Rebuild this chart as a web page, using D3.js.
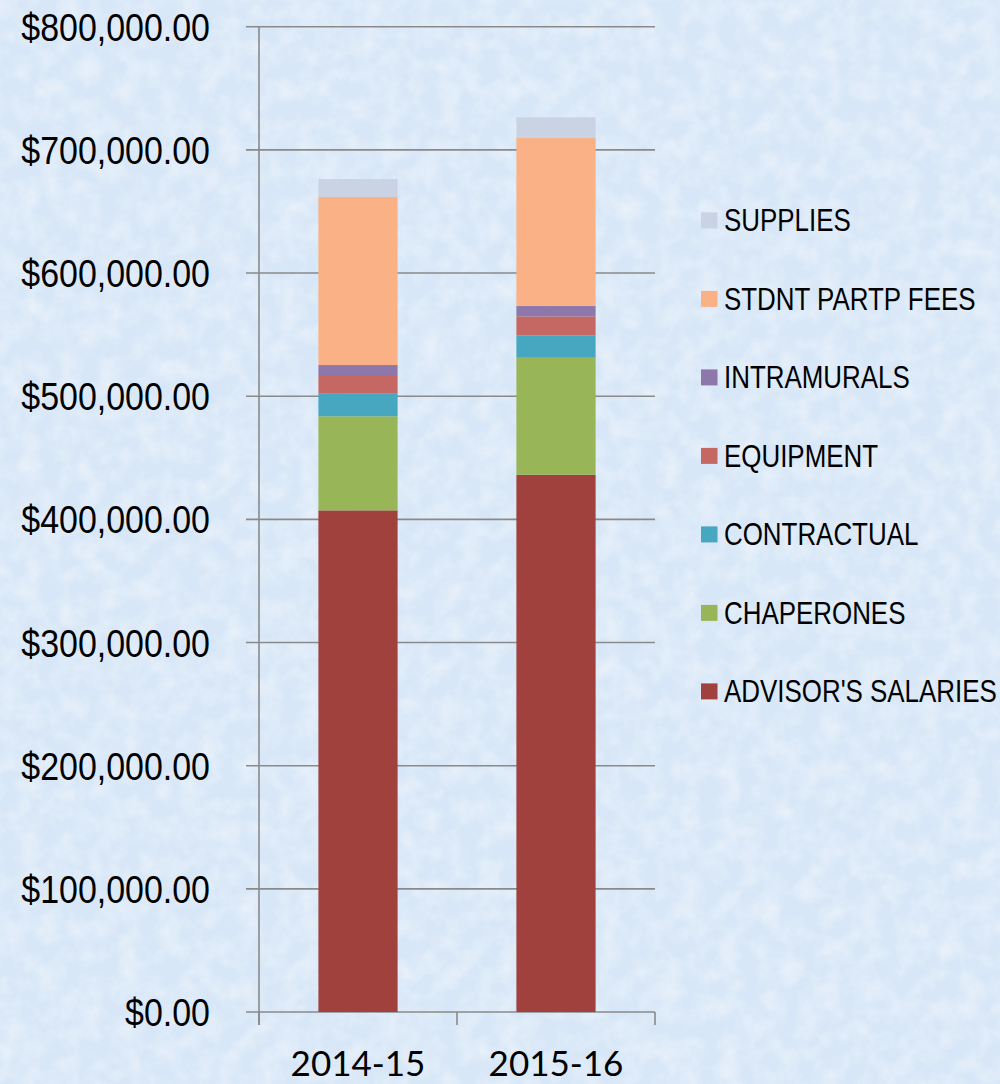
<!DOCTYPE html>
<html><head><meta charset="utf-8">
<script src="https://cdn.jsdelivr.net/npm/d3@7"></script>
<style>html,body{margin:0;padding:0;background:#dce9f7;}svg{display:block;}</style>
</head><body>
<script>
const categories = ["2014-15", "2015-16"];
const seriesNames = ["ADVISOR'S SALARIES", "CHAPERONES", "CONTRACTUAL", "EQUIPMENT", "INTRAMURALS", "STDNT PARTP FEES", "SUPPLIES"];
const advisorsSalaries = [407300, 436200];
const chaperones = [76400, 95000];
const contractual = [18300, 18200];
const equipment = [15200, 15400];
const intramurals = [8100, 8400];
const stdntPartpFees = [136400, 136400];
const supplies = [14600, 16800];
const seriesColors = ["#a0413d", "#98b558", "#47a6c0", "#c56762", "#8e77ab", "#f9b185", "#c9d3e3"];
const yTicks = [0, 100000, 200000, 300000, 400000, 500000, 600000, 700000, 800000];

const W = 1000, H = 1084;
const svg = d3.select("body").append("svg").attr("width", W).attr("height", H);

// background texture
const defs = svg.append("defs");
const f = defs.append("filter").attr("id", "tex").attr("x", 0).attr("y", 0).attr("width", "100%").attr("height", "100%");
f.append("feTurbulence").attr("type", "fractalNoise").attr("baseFrequency", 0.05).attr("numOctaves", 4).attr("seed", 4).attr("result", "n");
f.append("feColorMatrix").attr("in", "n").attr("type", "matrix")
  .attr("values", "0 0 0 0 1  0 0 0 0 1  0 0 0 0 1  1.2 0 0 0 -0.45");
svg.append("rect").attr("width", W).attr("height", H).attr("fill", "#d8e7f7");
svg.append("rect").attr("width", W).attr("height", H).attr("filter", "url(#tex)").attr("opacity", 0.65);

const series = [advisorsSalaries, chaperones, contractual, equipment, intramurals, stdntPartpFees, supplies];
const rows = categories.map((c, i) => {
  const o = { cat: c };
  seriesNames.forEach((s, k) => o[s] = series[k][i]);
  return o;
});
const stacked = d3.stack().keys(seriesNames)(rows);

const y = d3.scaleLinear().domain([0, 800000]).range([1012, 26.7]);
const x = d3.scaleBand().domain(categories).range([259, 655]).paddingInner(0.6).paddingOuter(0.3);
const color = d3.scaleOrdinal().domain(seriesNames).range(seriesColors);

// gridlines
const gridColor = "#8a8a8a";
svg.append("g").selectAll("line").data(yTicks).join("line")
  .attr("x1", 246).attr("x2", 655)
  .attr("y1", d => y(d)).attr("y2", d => y(d))
  .attr("stroke", gridColor).attr("stroke-width", 1.6);

// y axis line
svg.append("line").attr("x1", 259).attr("x2", 259).attr("y1", y(800000)).attr("y2", 1025)
  .attr("stroke", gridColor).attr("stroke-width", 1.6);

// x ticks
const xTickPos = [259, ...categories.map(c => x(c) + x.bandwidth() / 2 + x.step() / 2)];
svg.append("g").selectAll("line").data(xTickPos).join("line")
  .attr("x1", d => d).attr("x2", d => d).attr("y1", 1012).attr("y2", 1025)
  .attr("stroke", gridColor).attr("stroke-width", 1.6);

// bars
svg.append("g").selectAll("g").data(stacked).join("g")
  .attr("fill", d => color(d.key))
  .selectAll("rect").data(d => d).join("rect")
  .attr("x", d => x(d.data.cat)).attr("width", x.bandwidth())
  .attr("y", d => y(d[1])).attr("height", d => y(d[0]) - y(d[1]));

// y labels
const fmt = d3.format("$,.2f");
svg.append("g").selectAll("text").data(yTicks).join("text")
  .attr("transform", d => `translate(210,${y(d) + 14}) scale(0.87,1)`)
  .attr("text-anchor", "end")
  .attr("font-family", "'Liberation Sans', Arial, sans-serif").attr("font-size", 39)
  .attr("fill", "#000").text(d => fmt(d));

// x labels
svg.append("g").selectAll("text").data(categories).join("text")
  .attr("x", d => x(d) + x.bandwidth() / 2).attr("y", 1076)
  .attr("text-anchor", "middle")
  .attr("font-family", "Lato, 'Open Sans', sans-serif").attr("font-size", 35)
  .attr("fill", "#000").text(d => d);

// legend
const legendOrder = seriesNames.slice().reverse();
const lg = svg.append("g").selectAll("g").data(legendOrder).join("g")
  .attr("transform", (d, i) => `translate(701,${220.4 + i * 78.5})`);
lg.append("rect").attr("x", 0).attr("y", -8).attr("width", 16.5).attr("height", 16)
  .attr("fill", d => color(d));
lg.append("text").attr("transform", "translate(23,11) scale(0.81,1)")
  .attr("font-family", "'Liberation Sans', Arial, sans-serif").attr("font-size", 32)
  .attr("fill", "#000").text(d => d);
</script>
</body></html>
